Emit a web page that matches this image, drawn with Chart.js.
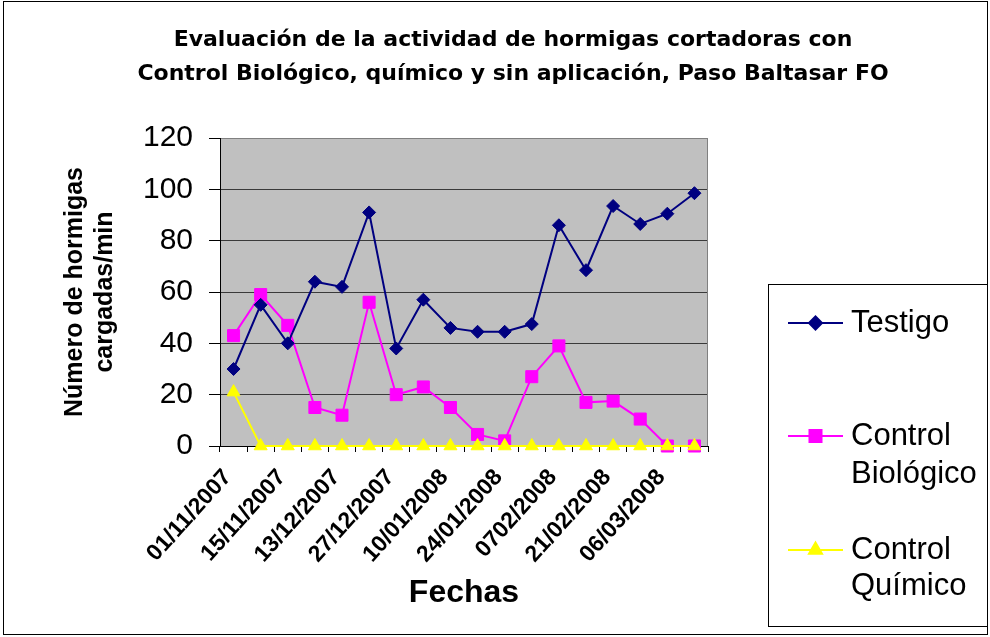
<!DOCTYPE html>
<html>
<head>
<meta charset="utf-8">
<script src="https://cdn.jsdelivr.net/npm/chart.js@4.4.1/dist/chart.umd.min.js"></script>
<style>
  html, body { margin: 0; padding: 0; background: #fff; }
  #wrap { position: relative; width: 990px; height: 637px; }
</style>
</head>
<body>
<div id="wrap"><canvas id="c" width="990" height="637"></canvas></div>
<script>
// ---- data ----
const fechas = ['01/11/2007', '', '15/11/2007', '', '13/12/2007', '', '27/12/2007', '',
                '10/01/2008', '', '24/01/2008', '', '0702/2008', '', '21/02/2008', '',
                '06/03/2008', ''];
const testigo   = [30, 55, 40, 64, 62, 91, 38, 57, 46, 44.5, 44.5, 47.5, 86, 68.5, 93.5, 86.5, 90.5, 98.5];
const biologico = [43, 59, 47, 15, 12, 56, 20, 23, 15, 4.5, 2, 27, 39, 17, 17.5, 10.5, 0, 0];
const quimico   = [21, 0, 0, 0, 0, 0, 0, 0, 0, 0, 0, 0, 0, 0, 0, 0, 0, 0];
const yTicks    = [0, 20, 40, 60, 80, 100, 120];
const seriesNames = ['Testigo', ['Control', 'Biológico'], ['Control', 'Químico']];
const titleLines = ['Evaluación de la actividad de hormigas cortadoras con',
                    'Control Biológico, químico y sin aplicación, Paso Baltasar FO'];
const yTitle = ['Número de hormigas', 'cargadas/min'];
const xTitle = 'Fechas';

const FONT = "'Liberation Sans', Arial, sans-serif";
const colors = ['#000080', '#FF00FF', '#FFFF00'];
const styles = ['rectRot', 'rect', 'triangle'];
const radii = [6.5, 8.5, 7.5];

function drawMarker(ctx, style, x, y, r, color) {
  ctx.save();
  ctx.fillStyle = color;
  ctx.strokeStyle = color;
  ctx.beginPath();
  if (style === 'rectRot') {
    ctx.moveTo(x - r, y); ctx.lineTo(x, y - r); ctx.lineTo(x + r, y); ctx.lineTo(x, y + r);
  } else if (style === 'rect') {
    const s = r * Math.SQRT1_2;
    ctx.rect(x - s, y - s, 2 * s, 2 * s);
  } else {
    ctx.moveTo(x, y - r);
    ctx.lineTo(x + r * Math.sin(2 * Math.PI / 3), y - r * Math.cos(2 * Math.PI / 3));
    ctx.lineTo(x + r * Math.sin(4 * Math.PI / 3), y - r * Math.cos(4 * Math.PI / 3));
  }
  ctx.closePath();
  ctx.fill();
  ctx.stroke();
  ctx.restore();
}

const decor = {
  id: 'decor',
  beforeDatasetsDraw(chart) {
    const {ctx, chartArea: a} = chart;
    ctx.save();
    ctx.strokeStyle = '#808080';
    ctx.lineWidth = 1;
    ctx.beginPath();
    ctx.moveTo(a.right - 0.5, a.top);
    ctx.lineTo(a.right - 0.5, a.bottom);
    ctx.stroke();
    ctx.restore();
  },
  beforeDraw(chart) {
    const {ctx, chartArea: a} = chart;
    ctx.save();
    ctx.fillStyle = '#C0C0C0';
    ctx.fillRect(a.left, a.top, a.right - a.left, a.bottom - a.top);
    ctx.restore();
  },
  afterDraw(chart) {
    const ctx = chart.ctx;
    ctx.save();
    // outer frame
    ctx.strokeStyle = '#000';
    ctx.lineWidth = 1;
    ctx.strokeRect(3.5, 1.5, 984, 633);
    // legend box
    ctx.strokeRect(768.5, 284.5, 219, 342);
    const rows = [{y: 323, lh: 0}, {y: 436, lh: 38}, {y: 550, lh: 36}];
    ctx.font = '31px ' + FONT;
    ctx.fillStyle = '#000';
    ctx.textBaseline = 'middle';
    ctx.textAlign = 'left';
    chart.data.datasets.forEach((ds, i) => {
      const r = rows[i];
      ctx.strokeStyle = colors[i];
      ctx.lineWidth = 2;
      ctx.beginPath();
      ctx.moveTo(788, r.y); ctx.lineTo(843, r.y);
      ctx.stroke();
      drawMarker(ctx, styles[i], 815.5, r.y, radii[i], colors[i]);
      const lines = Array.isArray(seriesNames[i]) ? seriesNames[i] : [seriesNames[i]];
      lines.forEach((t, k) => ctx.fillText(t, 851, r.y + k * r.lh));
    });
    ctx.restore();
  }
};

function makeDs(label, data, i, order) {
  return {
    label: Array.isArray(label) ? label.join(' ') : label,
    data: data,
    borderColor: colors[i],
    backgroundColor: colors[i],
    borderWidth: 2,
    pointStyle: styles[i],
    pointRadius: radii[i],
    pointHoverRadius: radii[i],
    pointBorderWidth: 1,
    pointBackgroundColor: colors[i],
    pointBorderColor: colors[i],
    tension: 0,
    clip: false,
    order: order
  };
}

new Chart(document.getElementById('c'), {
  type: 'line',
  data: {
    labels: fechas,
    datasets: [
      makeDs(seriesNames[0], testigo, 0, 1),
      makeDs(seriesNames[1], biologico, 1, 2),
      makeDs(seriesNames[2], quimico, 2, 0)
    ]
  },
  options: {
    responsive: false,
    animation: false,
    events: [],
    layout: { padding: { left: 36, right: 0, top: 0, bottom: 0 } },
    plugins: {
      legend: { display: false },
      tooltip: { enabled: false },
      title: {
        display: true,
        text: titleLines,
        color: '#000',
        font: { family: "'DejaVu Sans', sans-serif", size: 22, weight: 'bold', lineHeight: 34 / 22 },
        padding: { top: 23, bottom: 47 }
      }
    },
    scales: {
      x: {
        type: 'category',
        offset: true,
        grid: { display: true, drawOnChartArea: false, offset: true, tickLength: 6, tickColor: '#000' },
        border: { display: true, color: '#000', width: 1 },
        ticks: {
          autoSkip: false, maxRotation: 48, minRotation: 48, padding: 12, labelOffset: -6,
          color: '#000', font: { family: FONT, size: 23, weight: 'bold' }
        },
        title: {
          display: true, text: xTitle, color: '#000',
          font: { family: FONT, size: 32, weight: 'bold', lineHeight: 1.2 },
          padding: { top: 25, bottom: 25 }
        },
        afterFit(s) { s.height = 191; }
      },
      y: {
        min: 0, max: 120,
        afterBuildTicks(s) { s.ticks = yTicks.map(v => ({ value: v })); },
        grid: {
          color: ctx => (ctx.tick && ctx.tick.value === 120) ? '#808080' : '#3a3a3a',
          tickColor: '#000', tickLength: 11, lineWidth: 1
        },
        border: { display: true, color: '#000', width: 1 },
        ticks: { color: '#000', padding: 16, font: { family: FONT, size: 30 } },
        title: {
          display: true, text: yTitle, color: '#000',
          font: { family: FONT, size: 25, weight: 'bold', lineHeight: 30 / 25 },
          padding: { top: 24, bottom: 0 }
        },
        afterFit(s) { s.width = 184; }
      },
      yRight: {
        axis: 'y',
        position: 'right',
        display: true,
        grid: { display: false, drawTicks: false },
        border: { display: false },
        ticks: { display: false },
        afterFit(s) { s.width = 282; }
      }
    }
  },
  plugins: [decor]
});
</script>
</body>
</html>
